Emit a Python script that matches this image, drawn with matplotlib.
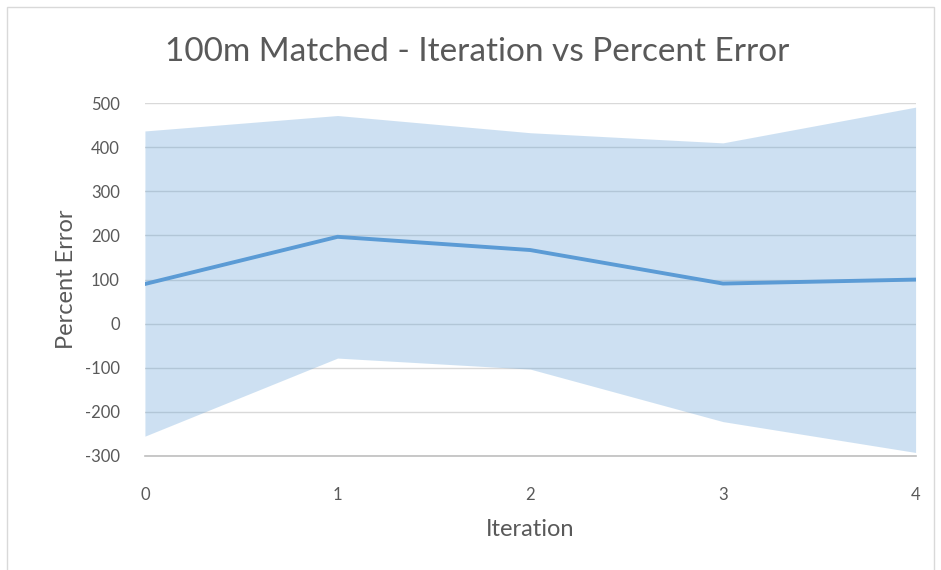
import matplotlib
matplotlib.use("Agg")
import matplotlib.pyplot as plt
from matplotlib.patches import Rectangle

plt.rcParams["font.family"] = ["Lato", "DejaVu Sans"]
plt.rcParams["axes.unicode_minus"] = False

iterations = [0, 1, 2, 3, 4]
mean_error = [90, 197, 167, 91, 100]
upper_error = [437, 472, 433, 410, 491]
lower_error = [-255, -78, -103, -222, -292]

y_ticks = [-300, -200, -100, 0, 100, 200, 300, 400, 500]

text_color = "#595959"
line_color = "#5b9bd5"

fig = plt.figure(figsize=(9.41, 5.70), dpi=100)
ax = fig.add_axes([0.154, 0.2, 0.819, 0.619])

ax.fill_between(iterations, lower_error, upper_error, color=line_color,
                alpha=0.3, linewidth=0, zorder=2)
ax.plot(iterations, mean_error, color=line_color, linewidth=2.8, zorder=3)

ax.set_xlim(0, 4)
ax.set_ylim(-300, 500)
ax.set_xticks(iterations)
ax.set_yticks(y_ticks)
ax.grid(axis="y", color="#d9d9d9", linewidth=1, zorder=0)
ax.set_axisbelow(True)

for side in ["top", "left", "right"]:
    ax.spines[side].set_visible(False)
ax.spines["bottom"].set_color("#bfbfbf")
ax.spines["bottom"].set_linewidth(1.2)
ax.spines["bottom"].set_zorder(4)

ax.tick_params(axis="both", length=0, labelsize=12, colors=text_color)
ax.tick_params(axis="x", pad=22)
ax.tick_params(axis="y", pad=18)

ax.set_xlabel("Iteration", fontsize=17, color=text_color, labelpad=12)
ax.set_ylabel("Percent Error", fontsize=17, color=text_color, labelpad=6)
fig.text(0.507, 0.908, "100m Matched - Iteration vs Percent Error",
         ha="center", va="center", fontsize=24, color=text_color)

fig.patches.append(Rectangle((0.007, -0.02), 0.986, 1.008, transform=fig.transFigure,
                             fill=False, edgecolor="#d9d9d9", linewidth=1))

fig.savefig("out.png", dpi=100, facecolor="white")
